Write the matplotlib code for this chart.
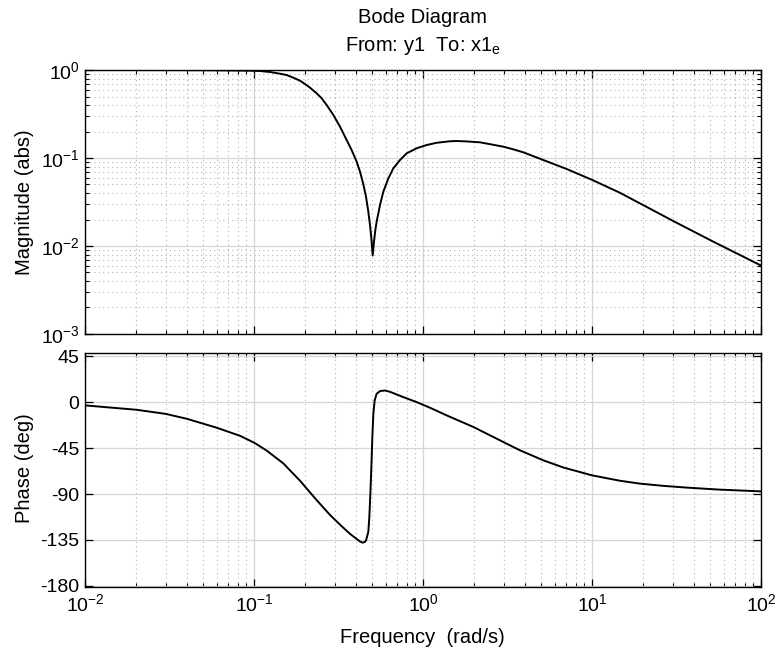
import matplotlib
matplotlib.use("Agg")
import matplotlib.pyplot as plt
from matplotlib.ticker import LogLocator, NullFormatter, FixedLocator

plt.rcParams['font.family'] = ['Liberation Sans', 'DejaVu Sans']
plt.rcParams['mathtext.fontset'] = 'custom'
plt.rcParams['mathtext.rm'] = 'Liberation Sans'
plt.rcParams['mathtext.it'] = 'Liberation Sans'
plt.rcParams['axes.unicode_minus'] = False

# magnitude (abs)
mag_w = [0.01, 0.02, 0.03, 0.05, 0.07, 0.0947, 0.1085, 0.1244, 0.1425, 0.156,
         0.1709, 0.1872, 0.2004, 0.2145, 0.2349, 0.2515, 0.2692, 0.2948, 0.3228,
         0.3534, 0.3784, 0.4051, 0.4239, 0.4437, 0.4601, 0.4748, 0.4858, 0.4948,
         0.5038, 0.513, 0.5224, 0.5318, 0.5567, 0.5824, 0.6236, 0.6675, 0.731,
         0.8005, 0.9174, 1.051, 1.205, 1.445, 1.582, 1.8, 2.175, 2.5, 2.988, 3.4,
         3.924, 5.152, 7.08, 10.0, 14.65, 21.06, 30.29, 52.2, 100]
mag = [1.0, 0.999, 0.998, 0.995, 0.99, 0.983, 0.974, 0.949, 0.908, 0.877,
       0.818, 0.756, 0.693, 0.63, 0.543, 0.477, 0.4, 0.308, 0.227,
       0.16, 0.123, 0.0908, 0.0699, 0.0502, 0.0363, 0.0245, 0.0173, 0.0122,
       0.0078, 0.0112, 0.0152, 0.0189, 0.0292, 0.0414, 0.0587, 0.0763, 0.0949,
       0.113, 0.129, 0.1405, 0.149, 0.155, 0.156, 0.1545, 0.1507, 0.1435, 0.1345, 0.126,
       0.116, 0.0949, 0.075, 0.0565, 0.0402, 0.0278, 0.0192, 0.0112, 0.006]

# phase (deg)
ph_w = [0.01, 0.0202, 0.03, 0.04, 0.06, 0.0827, 0.1009, 0.1189,
        0.1491, 0.1872, 0.2349, 0.2817, 0.3228, 0.3534, 0.3698, 0.4051, 0.425,
        0.4395, 0.452, 0.4601, 0.4748, 0.4814, 0.4881, 0.4948, 0.5015, 0.5084,
        0.5176, 0.5318, 0.5567, 0.5957, 0.6379, 0.7648, 0.9174, 1.1, 1.381, 1.99,
        2.729, 3.75, 5.152, 6.76, 10.0, 14.65, 19.2, 26.43, 36.3, 57.2, 100]
phase = [-3.2, -7.5, -11.5, -16.3, -25.0, -33.0, -40.0, -47.5,
         -60.0, -77.0, -96.0, -110.5, -120.0, -126.0, -129.0, -134.0, -136.6,
         -137.6, -137.0, -135.5, -127.0, -112.4, -89.6, -63.5, -34.2, -11.4,
         1.7, 8.2, 10.8, 11.4, 10.1, 4.9, 0.0, -5.5, -13.0, -24.4,
         -35.8, -47.2, -57.0, -64.0, -71.7, -77.0, -79.8, -82.0, -83.7, -85.7, -87.4]

phase_ticks = [45, 0, -45, -90, -135, -180]

fig = plt.figure(figsize=(7.77, 6.55), dpi=100)
ax1 = fig.add_axes([0.1094, 0.4901, 0.870, 0.4030])
ax2 = fig.add_axes([0.1094, 0.1034, 0.870, 0.3572])

major_c = '#d6d6d6'
minor_c = '#b5b5b5'

ax1.plot(mag_w, mag, color='black', linewidth=1.4)
ax1.set_xscale('log')
ax1.set_yscale('log')
ax1.set_xlim(0.01, 100)
ax1.set_ylim(1e-3, 1)
ax1.yaxis.set_major_locator(LogLocator(base=10, numticks=10))
ax1.yaxis.set_minor_locator(LogLocator(base=10, subs=range(2, 10), numticks=20))
ax1.yaxis.set_minor_formatter(NullFormatter())
ax1.tick_params(labelbottom=False)

ax2.plot(ph_w, phase, color='black', linewidth=1.4)
ax2.set_xscale('log')
ax2.set_xlim(0.01, 100)
ax2.set_ylim(-181.3, 47.8)
ax2.yaxis.set_major_locator(FixedLocator(phase_ticks))

for ax in (ax1, ax2):
    ax.xaxis.set_major_locator(LogLocator(base=10, numticks=10))
    ax.xaxis.set_minor_locator(LogLocator(base=10, subs=range(2, 10), numticks=20))
    ax.xaxis.set_minor_formatter(NullFormatter())
    ax.grid(True, which='major', color=major_c, linestyle='-', linewidth=0.9)
    ax.grid(True, which='minor', axis='x', color=minor_c, linestyle=(0, (1, 3)), linewidth=0.8)
    ax.tick_params(which='both', direction='in', top=True, right=True, labelsize=14, colors='black')
    ax.tick_params(which='major', length=6, width=0.9, pad=4)
    ax.tick_params(which='minor', length=3, width=0.8)
    for s in ax.spines.values():
        s.set_linewidth(1.0)
    ax.set_axisbelow(True)

ax1.grid(True, which='minor', axis='y', color=minor_c, linestyle=(0, (1, 3)), linewidth=0.8)

fig.text(0.544, 0.965, 'Bode Diagram', ha='center', va='baseline', fontsize=14.5)
fig.text(0.544, 0.9215, r'From: y1  To: x1$_{\mathregular{e}}$', ha='center', va='baseline', fontsize=14.5)
fig.text(0.031, 0.692, 'Magnitude (abs)', ha='center', va='center', rotation=90, fontsize=14.5)
fig.text(0.031, 0.285, 'Phase (deg)', ha='center', va='center', rotation=90, fontsize=14.5)
fig.text(0.544, 0.026, 'Frequency  (rad/s)', ha='center', va='center', fontsize=14.5)

fig.savefig('out.png', dpi=100)
